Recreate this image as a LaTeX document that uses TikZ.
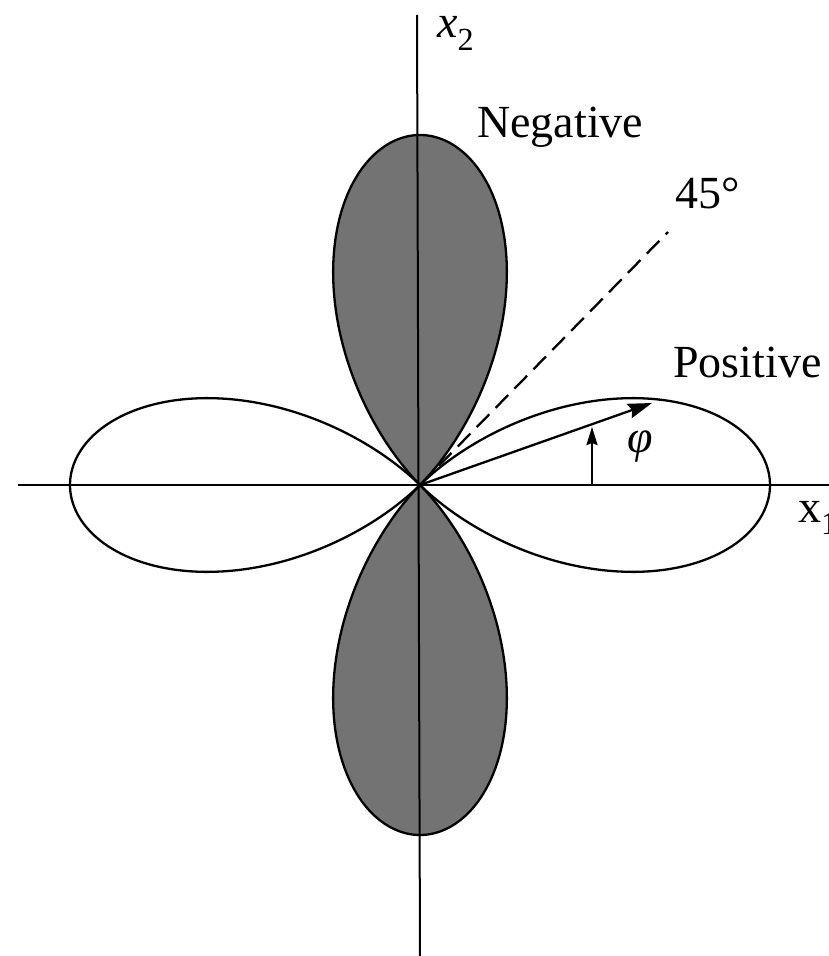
\documentclass[tikz,border=0pt]{standalone}
\usepackage{fontspec}
\setmainfont{Liberation Serif}
\usetikzlibrary{arrows.meta}
\begin{document}
\begin{tikzpicture}[x=1pt,y=1pt,
  declare function={lobe(\t)=350*abs(cos(2*\t))*sqrt(sqrt(abs(cos(2*\t))));},
  outline/.style={line width=2.3pt,line join=round},
  axisline/.style={line width=2pt},
  lobefill/.style={fill=black!55},
  lbl/.style={font=\fontsize{46}{52}\selectfont, inner sep=0pt},
  ]
\useasboundingbox (-420,-471) rectangle (409,485);
\coordinate (O) at (0,0);
\coordinate (xl) at (-402,0);
\coordinate (xr) at (420,0);
\coordinate (yt) at (-3,470);
\coordinate (yb) at (0,-471);
\coordinate (tipA) at (232,82);
\coordinate (s0) at (172,0);
\coordinate (s1) at (172,58);
\coordinate (d1) at (248,253);

% shaded lobes
\fill[lobefill] plot[domain=45:135,samples=181] (\x:{lobe(\x)}) -- cycle;
\fill[lobefill] plot[domain=225:315,samples=181] (\x:{lobe(\x)}) -- cycle;

% axes
\draw[axisline] (xl) -- (xr);
\draw[axisline] (yt) -- (yb);

% lobe outlines
\draw[outline] plot[domain=-45:45,samples=181] (\x:{lobe(\x)}) -- cycle;
\draw[outline] plot[domain=45:135,samples=181] (\x:{lobe(\x)}) -- cycle;
\draw[outline] plot[domain=135:225,samples=181] (\x:{lobe(\x)}) -- cycle;
\draw[outline] plot[domain=225:315,samples=181] (\x:{lobe(\x)}) -- cycle;

% 45 degree dashed line
\draw[line width=2.3pt, dash pattern=on 18pt off 9pt] (O) -- (d1);

% radius arrow and angle arrow
\draw[outline, -{Stealth[length=24pt,width=15pt,inset=3pt]}] (O) -- (tipA);
\draw[outline, -{Stealth[length=18pt,width=11pt,inset=2pt]}] (s0) -- (s1);

% labels
\node[lbl,anchor=base west] (x2) at (17,447) {\textit{x}\textsubscript{2}};
\node[lbl,anchor=base west] (neg) at (57,347) {Negative};
\node[lbl,anchor=base west] (deg) at (255,276) {45°};
\node[lbl,anchor=base west] (pos) at (253,107) {Positive};
\node[lbl] (phi) at (220,38) {\textit{φ}};
\node[lbl,anchor=base west] (x1) at (378,-37) {x\textsubscript{1}};
\end{tikzpicture}
\end{document}
